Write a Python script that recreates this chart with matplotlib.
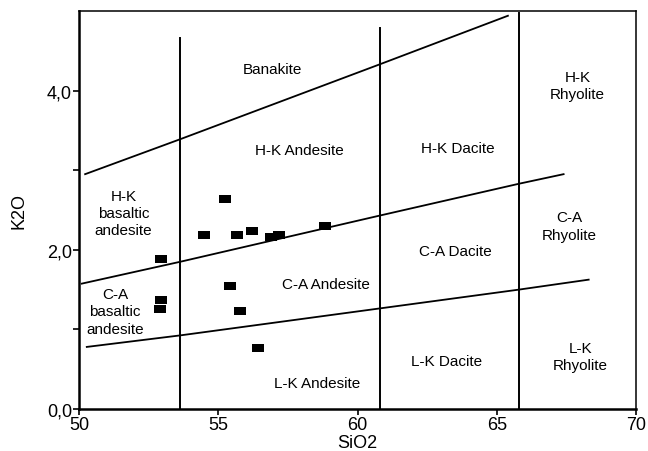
import numpy as np
import matplotlib.pyplot as plt
from matplotlib.ticker import FixedLocator, FuncFormatter

plt.rcParams['font.family'] = ['Liberation Sans', 'DejaVu Sans']

# sample points (SiO2, K2O)
sio2 = [55.24, 54.49, 55.66, 56.21, 56.89, 57.19, 58.84,
        52.96, 55.43, 52.96, 52.90, 55.79, 56.44]
k2o = [2.64, 2.19, 2.18, 2.24, 2.16, 2.19, 2.30,
       1.89, 1.55, 1.375, 1.26, 1.23, 0.77]

# field boundaries
upper_x = [50.22, 53.64, 60.8, 65.4]
upper_y = [2.95, 3.39, 4.33, 4.94]
middle_x = [50.1, 53.64, 60.8, 65.8, 67.4]
middle_y = [1.575, 1.85, 2.43, 2.83, 2.95]
lower_x = [50.28, 53.64, 65.8, 68.3]
lower_y = [0.78, 0.925, 1.50, 1.625]
vert_x = [53.64, 60.8, 65.8]
vert_top = [4.66, 4.79, 4.97]

# field names
field_labels = ['Banakite', 'H-K Andesite', 'H-K Dacite', 'H-K\nRhyolite',
                'H-K\nbasaltic\nandesite', 'C-A\nbasaltic\nandesite',
                'C-A Andesite', 'C-A Dacite', 'C-A\nRhyolite',
                'L-K Andesite', 'L-K Dacite', 'L-K\nRhyolite']
field_x = [56.93, 57.9, 63.6, 67.9, 51.6, 51.3, 58.87, 63.5, 67.6, 58.55, 63.2, 68.0]
field_y = [4.27, 3.25, 3.275, 4.06, 2.46, 1.225, 1.575, 1.99, 2.3, 0.33, 0.6, 0.66]

fig = plt.figure(figsize=(6.48, 4.52), dpi=100)
ax = fig.add_axes([0.1219, 0.0929, 0.8596, 0.8806])

ax.plot(upper_x, upper_y, color='black', lw=1.3)
ax.plot(middle_x, middle_y, color='black', lw=1.3)
ax.plot(lower_x, lower_y, color='black', lw=1.3)
for x, top in zip(vert_x, vert_top):
    ax.plot([x, x], [0, top], color='black', lw=1.4)

rect = [(-1.4, -1), (1.4, -1), (1.4, 1), (-1.4, 1), (-1.4, -1)]
ax.plot(sio2, k2o, linestyle='none', marker=rect, markersize=8.5,
        color='black', markeredgewidth=0)

for lab, x, y in zip(field_labels, field_x, field_y):
    ax.text(x, y, lab, ha='center', va='center', fontsize=11,
            linespacing=1.3)

ax.set_xlim(50, 70)
ax.set_ylim(0, 5)
ax.set_xticks([50, 55, 60, 65, 70])
ax.yaxis.set_major_locator(FixedLocator([0, 1, 2, 3, 4]))
ax.yaxis.set_major_formatter(FuncFormatter(
    lambda v, p: ('%.1f' % v).replace('.', ',') if int(round(v)) % 2 == 0 else ''))
ax.tick_params(labelsize=13, length=4, width=1.2, direction='out', pad=1)
for side in ['left', 'bottom']:
    ax.spines[side].set_linewidth(1.8)
for side in ['top', 'right']:
    ax.spines[side].set_linewidth(1.1)

ax.set_xlabel('SiO2', fontsize=13, labelpad=1)
ax.set_ylabel('K2O', fontsize=13, labelpad=14)

fig.savefig('out.png', dpi=100)
